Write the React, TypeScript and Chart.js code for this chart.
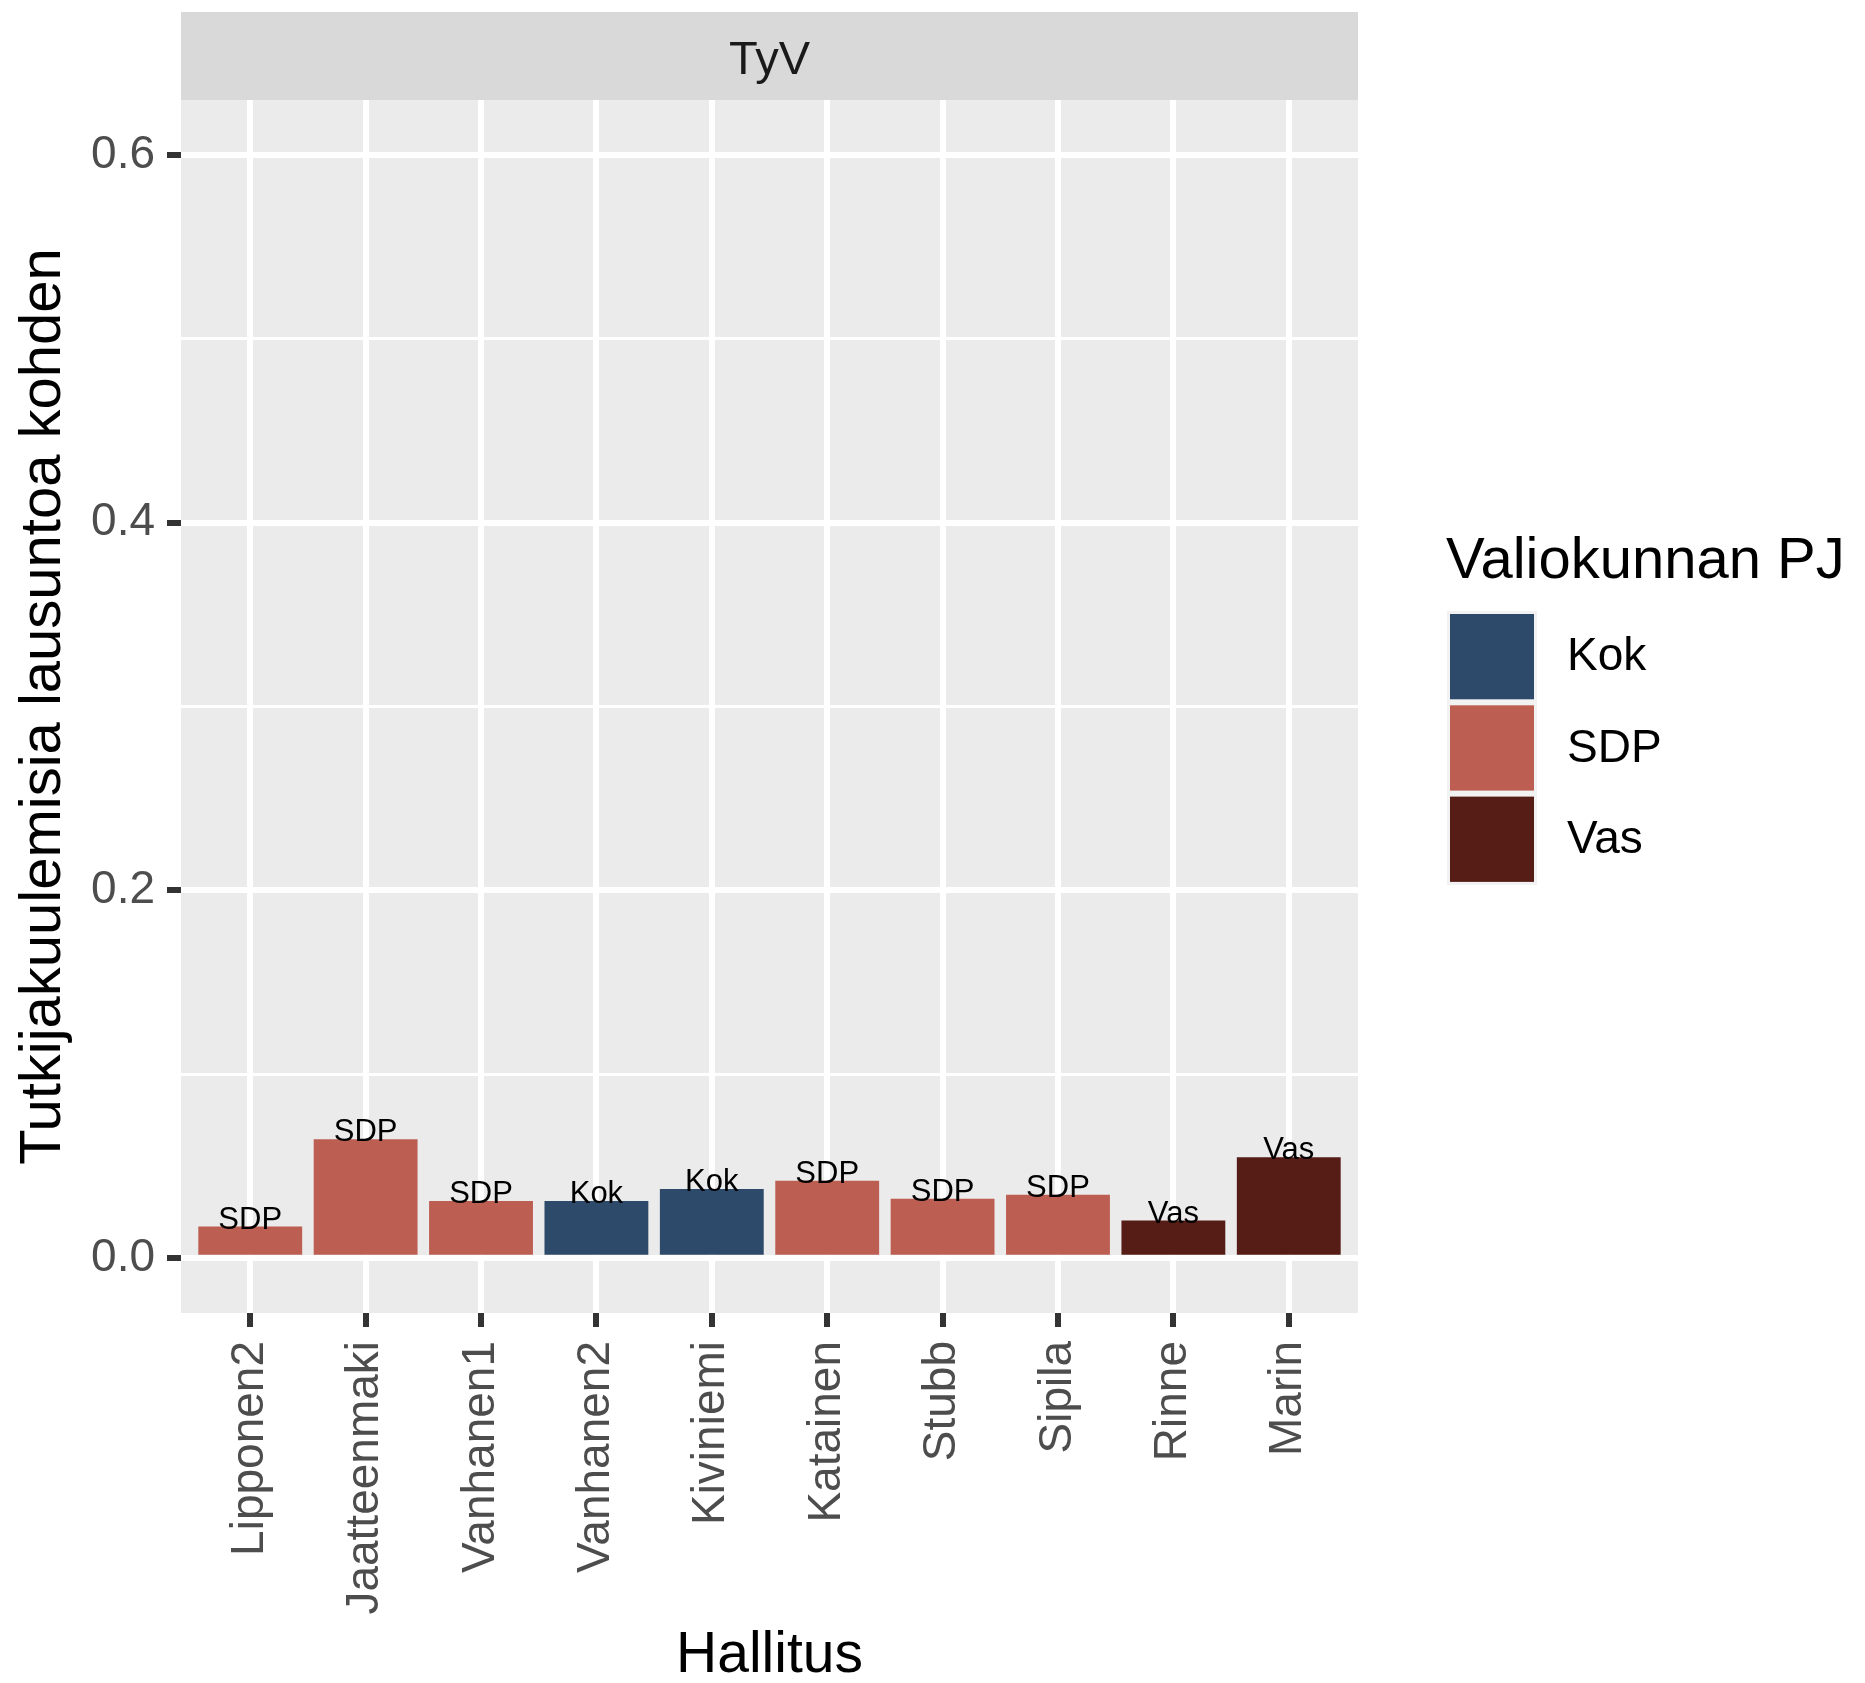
import React, { useEffect, useRef } from 'react';
import { Chart, registerables } from 'chart.js';

Chart.register(...registerables);

const CATEGORIES = ['Lipponen2', 'Jaatteenmaki', 'Vanhanen1', 'Vanhanen2', 'Kiviniemi', 'Katainen', 'Stubb', 'Sipila', 'Rinne', 'Marin'];
const VALUES = [0.017, 0.0645, 0.031, 0.031, 0.0375, 0.042, 0.0322, 0.0343, 0.0203, 0.0547];
const PARTIES = ['SDP', 'SDP', 'SDP', 'Kok', 'Kok', 'SDP', 'SDP', 'SDP', 'Vas', 'Vas'];
const LEGEND_PARTIES = ['Kok', 'SDP', 'Vas'];
const PARTY_COLORS = ['#2E4A6A', '#BC5E51', '#561D17'];
const Y_MAJOR = [0, 0.2, 0.4, 0.6];
const Y_MINOR = [0.1, 0.3, 0.5];
const Y_MIN = -0.03;
const Y_MAX = 0.63;
const FACET = 'TyV';
const X_TITLE = 'Hallitus';
const Y_TITLE = 'Tutkijakuulemisia lausuntoa kohden';
const LEGEND_TITLE = 'Valiokunnan PJ';

const FONT = "'Liberation Sans', Arial, Helvetica, sans-serif";

const isMajor = (v: number) => Y_MAJOR.some((m) => Math.abs(m - v) < 1e-9);

const ggPlugin = {
  id: 'ggStyle',
  beforeDraw(chart: any) {
    const { ctx, chartArea: a } = chart;
    ctx.save();
    ctx.fillStyle = '#FFFFFF';
    ctx.fillRect(0, 0, chart.width, chart.height);
    ctx.fillStyle = '#EBEBEB';
    ctx.fillRect(a.left, a.top, a.right - a.left, a.bottom - a.top);
    // facet strip
    ctx.fillStyle = '#D9D9D9';
    ctx.fillRect(a.left, 12, a.right - a.left, a.top - 12);
    ctx.fillStyle = '#1A1A1A';
    ctx.font = `47px ${FONT}`;
    ctx.textAlign = 'center';
    ctx.textBaseline = 'alphabetic';
    ctx.fillText(FACET, (a.left + a.right) / 2, 74);
    ctx.restore();
  },
  afterDatasetsDraw(chart: any) {
    const { ctx } = chart;
    const meta = chart.getDatasetMeta(0);
    ctx.save();
    ctx.fillStyle = '#000000';
    ctx.font = `31px ${FONT}`;
    ctx.textAlign = 'center';
    ctx.textBaseline = 'alphabetic';
    meta.data.forEach((bar: any, i: number) => {
      ctx.fillText(PARTIES[i], bar.x, bar.y + 2);
    });
    ctx.restore();
  },
  afterDraw(chart: any) {
    const { ctx } = chart;
    ctx.save();
    ctx.fillStyle = '#000000';
    ctx.font = `58px ${FONT}`;
    ctx.textAlign = 'left';
    ctx.textBaseline = 'alphabetic';
    ctx.fillText(LEGEND_TITLE, 1446, 578);
    const keyX = 1447;
    const keyW = 90;
    const keyTop = 611;
    const keyH = 91.3;
    ctx.fillStyle = '#F2F2F2';
    ctx.fillRect(keyX, keyTop, keyW, keyH * LEGEND_PARTIES.length);
    ctx.font = `46px ${FONT}`;
    ctx.textBaseline = 'middle';
    LEGEND_PARTIES.forEach((p, i) => {
      const top = keyTop + i * keyH;
      ctx.fillStyle = PARTY_COLORS[i];
      ctx.fillRect(keyX + 3, top + 3, keyW - 6, keyH - 6);
      ctx.fillStyle = '#000000';
      ctx.fillText(p, 1567, top + keyH / 2 + 1);
    });
    ctx.restore();
  },
};

export default function App() {
  const ref = useRef<HTMLCanvasElement | null>(null);

  useEffect(() => {
    if (!ref.current) return;
    const chart = new Chart(ref.current, {
      type: 'bar',
      data: {
        datasets: [
          {
            data: VALUES.map((v, i) => ({ x: i, y: v })),
            backgroundColor: PARTIES.map((p) => PARTY_COLORS[LEGEND_PARTIES.indexOf(p)]),
            borderWidth: 0,
            barPercentage: 0.9,
            categoryPercentage: 1.0,
          },
        ],
      },
      options: {
        responsive: false,
        animation: false,
        devicePixelRatio: 1,
        events: [],
        layout: { padding: { left: 0, top: 100, right: 507, bottom: 0 } },
        plugins: { legend: { display: false }, tooltip: { enabled: false } },
        scales: {
          x: {
            type: 'linear',
            min: -0.6,
            max: 9.6,
            offset: false,
            afterBuildTicks: (s: any) => {
              s.ticks = CATEGORIES.map((_, i) => ({ value: i }));
            },
            afterFit: (s: any) => {
              s.height = 370;
            },
            ticks: {
              autoSkip: false,
              minRotation: 90,
              maxRotation: 90,
              padding: 14,
              color: '#4D4D4D',
              font: { size: 46, family: FONT },
              callback: (v: any) => CATEGORIES[Math.round(Number(v))] ?? '',
            },
            grid: {
              offset: false,
              color: '#FFFFFF',
              lineWidth: 6,
              tickColor: '#333333',
              tickWidth: 6,
              tickLength: 14,
              drawTicks: true,
            },
            border: { display: false },
            title: {
              display: true,
              text: X_TITLE,
              color: '#000000',
              font: { size: 57, family: FONT, lineHeight: 1 },
              padding: { top: 0, bottom: -2 },
            },
          },
          y: {
            type: 'linear',
            min: Y_MIN,
            max: Y_MAX,
            afterBuildTicks: (s: any) => {
              s.ticks = [...Y_MAJOR, ...Y_MINOR].sort((a, b) => a - b).map((v) => ({ value: v }));
            },
            afterFit: (s: any) => {
              s.width = 181;
            },
            ticks: {
              autoSkip: false,
              padding: 12,
              color: '#4D4D4D',
              font: { size: 46, family: FONT },
              callback: (v: any) => (isMajor(Number(v)) ? Number(v).toFixed(1) : ''),
            },
            grid: {
              color: '#FFFFFF',
              lineWidth: (c: any) => (c.tick && isMajor(c.tick.value) ? 6 : 3),
              tickColor: (c: any) => (c.tick && isMajor(c.tick.value) ? '#333333' : 'rgba(0,0,0,0)'),
              tickWidth: 6,
              tickLength: 14,
              drawTicks: true,
            },
            border: { display: false },
            title: {
              display: true,
              text: Y_TITLE,
              color: '#000000',
              font: { size: 58, family: FONT, lineHeight: 1 },
              padding: { top: 15, bottom: 0 },
            },
          },
        },
      },
      plugins: [ggPlugin],
    } as any);
    return () => chart.destroy();
  }, []);

  return (
    <canvas
      ref={ref}
      width={1865}
      height={1683}
      style={{ position: 'fixed', left: 0, top: 0, width: '1865px', height: '1683px', display: 'block' }}
    />
  );
}
